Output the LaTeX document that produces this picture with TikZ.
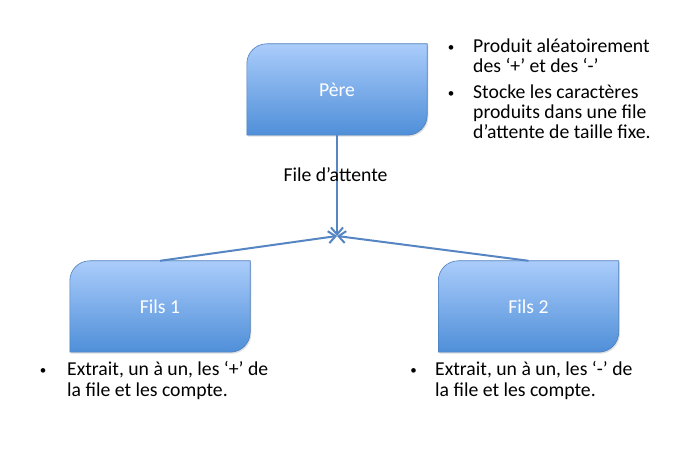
\documentclass[tikz,border=0pt]{standalone}
\usepackage{fontspec}
\setmainfont{Carlito}
\usetikzlibrary{arrows.meta,backgrounds,shadows}
\definecolor{boxtop}{HTML}{AACCFB}
\definecolor{boxbot}{HTML}{4F8FD8}
\definecolor{boxedge}{HTML}{4A7EBB}
\definecolor{linkc}{HTML}{5585C2}
\begin{document}
\begin{tikzpicture}[x=1pt,y=1pt,
  procbox/.style={minimum width=180pt,minimum height=91pt,inner sep=0pt,text=white,font=\fontsize{19.7}{23}\selectfont},
  boxshape/.style={top color=boxtop,bottom color=boxbot,draw=boxedge,line width=0.6pt,
     drop shadow={shadow xshift=1.2pt,shadow yshift=-1.5pt,opacity=0.25}},
  link/.style={draw=linkc,line width=2pt,-{Straight Barb[length=7pt,width=12pt]}},
  txt/.style={anchor=base west,inner sep=0pt,font=\fontsize{19.7}{23}\selectfont},
  bul/.style={anchor=center,inner sep=0pt,font=\fontsize{13}{13}\selectfont}
]
\useasboundingbox (0,0) rectangle (698,454);

\node[procbox] (pere) at (337,364.5) {Père};
\node[procbox] (fils1) at (160,147.5) {Fils 1};
\node[procbox] (fils2) at (528.5,147.5) {Fils 2};

\begin{scope}[on background layer]
\foreach \b in {pere,fils1,fils2}{
  \shadedraw[boxshape] (\b.south west) -- ([yshift=-20pt]\b.north west)
     arc[start angle=180,end angle=90,radius=20pt] -- (\b.north east)
     -- ([yshift=20pt]\b.south east)
     arc[start angle=0,end angle=-90,radius=20pt] -- cycle;
}
\end{scope}

\coordinate (J) at (337,218);
\draw[link] (pere.south) -- (J);
\draw[link] (fils1.north) -- (J);
\draw[link] (fils2.north) -- (J);

\node[font=\fontsize{19.7}{23}\selectfont,inner sep=0pt] (lbl) at (335.5,279) {File d’attente};

% Pere list
\node[bul] (pb1) at (451,405.6) {•};
\node[txt] (pt1) at (473,401) {Produit aléatoirement};
\node[txt] (pt2) at (473,381.5) {des ‘+’ et des ‘-’};
\node[bul] (pb2) at (451,359.6) {•};
\node[txt] (pt3) at (473,355) {Stocke les caractères};
\node[txt] (pt4) at (473,335) {produits dans une file};
\node[txt] (pt5) at (473,315) {d’attente de taille fixe.};

% Fils 1 list
\node[bul] (fb1) at (43,82.6) {•};
\node[txt] (ft1) at (67,78) {Extrait, un à un, les ‘+’ de};
\node[txt] (ft2) at (67,57) {la file et les compte.};

% Fils 2 list
\node[bul] (gb1) at (413.5,82.6) {•};
\node[txt] (gt1) at (435,78) {Extrait, un à un, les ‘-’ de};
\node[txt] (gt2) at (435,57) {la file et les compte.};
\end{tikzpicture}
\end{document}
